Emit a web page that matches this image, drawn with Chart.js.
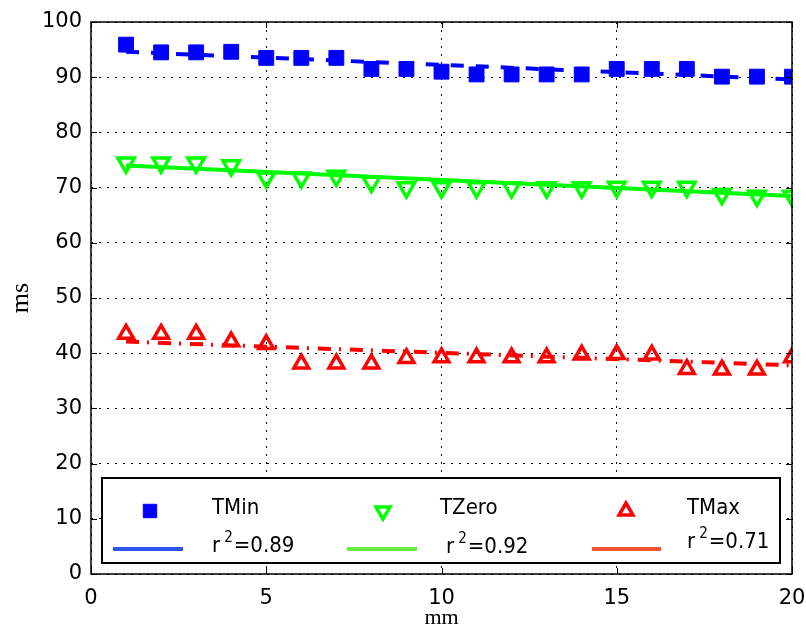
<!DOCTYPE html>
<html>
<head>
<meta charset="utf-8">
<script src="https://cdn.jsdelivr.net/npm/chart.js@4.4.1/dist/chart.umd.min.js"></script>
<style>
html, body { margin: 0; padding: 0; background: #ffffff; }
#wrap { width: 806px; height: 632px; }
</style>
</head>
<body>
<div id="wrap"><canvas id="chart" width="806" height="632"></canvas></div>
<script>
// values
const MM = [1, 2, 3, 4, 5, 6, 7, 8, 9, 10, 11, 12, 13, 14, 15, 16, 17, 18, 19, 20];
const TMIN = [95.9, 94.5, 94.5, 94.6, 93.5, 93.5, 93.5, 91.5, 91.5, 91.0, 90.5, 90.5, 90.5, 90.5, 91.5, 91.5, 91.5, 90.1, 90.1, 90.1];
const TZERO = [74.5, 74.5, 74.5, 74.0, 71.8, 71.8, 72.1, 71.0, 70.0, 70.0, 70.0, 70.0, 70.0, 70.0, 70.1, 70.1, 70.1, 68.8, 68.5, 68.5];
const TMAX = [43.5, 43.5, 43.5, 42.1, 41.6, 38.1, 38.1, 38.1, 39.1, 39.2, 39.2, 39.2, 39.2, 39.7, 39.8, 39.7, 37.1, 37.0, 37.0, 39.2];

// fitted lines, end points
const FIT_X = [1, 20];
const TMIN_FIT = [94.6, 89.6];
const TZERO_FIT = [74.0, 68.5];
const TMAX_FIT = [42.1, 37.8];

const X_TICKS = [0, 5, 10, 15, 20];
const Y_TICKS = [0, 10, 20, 30, 40, 50, 60, 70, 80, 90, 100];

const SERIES = ['TMin', 'TZero', 'TMax'];
const R2 = ['0.89', '0.92', '0.71'];

const BLUE = '#0000ff';
const GREEN = '#00ff00';
const RED = '#ff0000';
const LEGEND_LINES = ['#2f55f0', '#66f03c', '#f75532'];
const TICK_FONT = { family: '"DejaVu Sans", sans-serif', size: 21 };
const TITLE_FONT = { family: '"Liberation Serif", "DejaVu Serif", serif', size: 22 };
const YTITLE_FONT = { family: '"Liberation Serif", "DejaVu Serif", serif', size: 26 };
const LEGEND_FONT = '22px "DejaVu Sans Condensed", "DejaVu Sans", sans-serif';
const SUP_FONT = '15px "DejaVu Sans Condensed", "DejaVu Sans", sans-serif';

function points(xs, ys) {
    return xs.map((x, i) => ({ x, y: ys[i] }));
}

function markerSet(label, values, style, color, radius, rotation, fill) {
    return {
        label,
        data: points(MM, values),
        showLine: false,
        pointStyle: style,
        pointRadius: radius,
        pointRotation: rotation,
        pointBorderWidth: fill ? 1 : 3.5,
        pointBorderColor: color,
        pointBackgroundColor: fill ? color : 'rgba(0,0,0,0)',
        order: 1,
    };
}

function fitSet(label, values, color, dash) {
    return {
        label,
        data: points(FIT_X, values),
        showLine: true,
        pointRadius: 0,
        borderColor: color,
        borderWidth: 4,
        borderDash: dash,
        order: 2,
    };
}

function drawMarker(ctx, style, x, y, r, rotation, color, fill) {
    ctx.save();
    ctx.strokeStyle = color;
    ctx.fillStyle = color;
    ctx.lineWidth = fill ? 1 : 3.5;
    ctx.beginPath();
    if (style === 'rect') {
        const s = r * Math.SQRT1_2;
        ctx.rect(x - s, y - s, 2 * s, 2 * s);
    } else {
        let rad = rotation * Math.PI / 180;
        ctx.moveTo(x + Math.sin(rad) * r, y - Math.cos(rad) * r);
        for (let k = 0; k < 2; k++) {
            rad += 2 * Math.PI / 3;
            ctx.lineTo(x + Math.sin(rad) * r, y - Math.cos(rad) * r);
        }
        ctx.closePath();
    }
    if (fill) ctx.fill();
    ctx.stroke();
    ctx.restore();
}

const frame = {
    id: 'frame',
    afterDatasetsDraw(chart) {
        const { ctx, chartArea: a, scales } = chart;
        ctx.save();
        ctx.strokeStyle = '#000000';
        ctx.lineWidth = 1;
        ctx.beginPath();
        X_TICKS.forEach((v) => {
            const px = Math.round(scales.x.getPixelForValue(v)) + 0.5;
            ctx.moveTo(px, a.bottom);
            ctx.lineTo(px, a.bottom - 6);
            ctx.moveTo(px, a.top);
            ctx.lineTo(px, a.top + 6);
        });
        Y_TICKS.forEach((v) => {
            const py = Math.round(scales.y.getPixelForValue(v)) + 0.5;
            ctx.moveTo(a.left, py);
            ctx.lineTo(a.left + 6, py);
            ctx.moveTo(a.right, py);
            ctx.lineTo(a.right - 6, py);
        });
        ctx.stroke();
        ctx.lineWidth = 1.5;
        ctx.strokeRect(a.left, a.top, a.right - a.left, a.bottom - a.top);
        ctx.restore();
    },
    afterDraw(chart) {
        const { ctx, chartArea: a } = chart;
        const box = { left: a.left + 11, right: a.right - 12, top: 478, bottom: 563 };
        ctx.save();
        ctx.fillStyle = '#ffffff';
        ctx.fillRect(box.left, box.top, box.right - box.left, box.bottom - box.top);
        ctx.strokeStyle = '#000000';
        ctx.lineWidth = 2;
        ctx.strokeRect(box.left, box.top, box.right - box.left, box.bottom - box.top);

        const markerX = [150, 383, 626];
        const textX = [212, 440, 687];
        const lineX = [[113, 183], [347, 417], [592, 661]];
        const r2X = [212, 446, 687];
        const r2Y = [546, 547, 542];
        const styles = [['rect', 0, BLUE, true, 9.5], ['triangle', 180, GREEN, false, 8], ['triangle', 0, RED, false, 8]];

        SERIES.forEach((name, i) => {
            const [style, rot, color, fill, r] = styles[i];
            drawMarker(ctx, style, markerX[i], 511, r, rot, color, fill);

            ctx.fillStyle = '#000000';
            ctx.font = LEGEND_FONT;
            ctx.textBaseline = 'middle';
            ctx.textAlign = 'left';
            ctx.fillText(name, textX[i], 508);

            ctx.strokeStyle = LEGEND_LINES[i];
            ctx.lineWidth = 4;
            ctx.beginPath();
            ctx.moveTo(lineX[i][0], 549);
            ctx.lineTo(lineX[i][1], 549);
            ctx.stroke();

            let tx = r2X[i];
            ctx.font = LEGEND_FONT;
            ctx.fillText('r', tx, r2Y[i]);
            tx += ctx.measureText('r').width + 4;
            ctx.font = SUP_FONT;
            ctx.fillText('2', tx, r2Y[i] - 8);
            tx += ctx.measureText('2').width + 1;
            ctx.font = LEGEND_FONT;
            ctx.fillText('=' + R2[i], tx, r2Y[i]);
        });
        ctx.restore();
    },
};

new Chart(document.getElementById('chart'), {
    type: 'scatter',
    data: {
        datasets: [
            markerSet('TMin', TMIN, 'rect', BLUE, 10.5, 0, true),
            markerSet('TZero', TZERO, 'triangle', GREEN, 9.5, 180, false),
            markerSet('TMax', TMAX, 'triangle', RED, 8.5, 0, false),
            fitSet('TMin fit', TMIN_FIT, BLUE, [13, 12]),
            fitSet('TZero fit', TZERO_FIT, GREEN, []),
            fitSet('TMax fit', TMAX_FIT, RED, [13, 8, 2, 9]),
        ],
    },
    options: {
        responsive: false,
        animation: false,
        layout: { padding: { top: 22, right: 14, left: 0, bottom: 0 } },
        plugins: {
            legend: { display: false },
            tooltip: { enabled: false },
        },
        scales: {
            x: {
                type: 'linear',
                min: 0,
                max: 20,
                afterBuildTicks: (scale) => { scale.ticks = X_TICKS.map((value) => ({ value })); },
                afterFit: (scale) => {
                    scale.height = 58;
                    scale.paddingLeft = 0;
                    scale.paddingRight = 0;
                },
                ticks: { color: '#000000', font: TICK_FONT, padding: 12, maxRotation: 0 },
                grid: { color: '#000000', lineWidth: 1, drawTicks: false },
                border: { display: false, dash: [2, 6] },
                title: { display: true, text: 'mm', color: '#000000', font: TITLE_FONT, padding: { top: 0, bottom: 1 } },
            },
            y: {
                type: 'linear',
                min: 0,
                max: 100,
                afterBuildTicks: (scale) => { scale.ticks = Y_TICKS.map((value) => ({ value })); },
                afterFit: (scale) => {
                    scale.width = 91;
                    scale.paddingTop = 0;
                    scale.paddingBottom = 0;
                },
                ticks: { color: '#000000', font: TICK_FONT, padding: 9 },
                grid: { color: '#000000', lineWidth: 1, drawTicks: false },
                border: { display: false, dash: [2, 6] },
                title: { display: true, text: 'ms', color: '#000000', font: YTITLE_FONT, padding: { top: 6, bottom: 0 } },
            },
        },
    },
    plugins: [frame],
});
</script>
</body>
</html>
